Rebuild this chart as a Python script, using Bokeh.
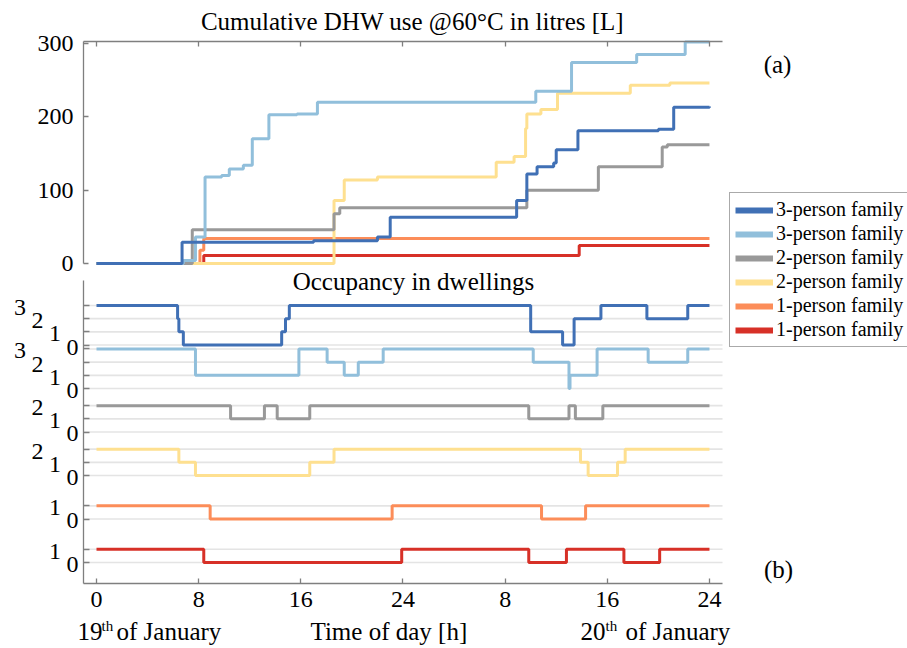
from bokeh.plotting import figure
from bokeh.models import (Range1d, LinearAxis, FixedTicker, Label, LabelSet,
                          ColumnDataSource, Legend, LegendItem, CustomJSTickFormatter)
from bokeh.core.properties import value
from bokeh.embed import file_html
from bokeh.resources import INLINE

FONT = "Liberation Serif"
AXC = "#7f7f7f"

# ---------------- data ----------------
series_labels = ["3-person family", "3-person family", "2-person family",
                 "2-person family", "1-person family", "1-person family"]
series_colors = ["#4070b5", "#91bfdb", "#999999", "#fee090", "#fc8d59", "#d73027"]

# (a) cumulative DHW use @60°C [L], step series (hour, litres after step)
dhw_t_3a = [0, 6.7, 17.0, 22.0, 23.0, 32.9, 33.7, 34.5, 35.8, 36.0, 37.7, 44.0, 45.2, 48]
dhw_v_3a = [0, 29, 31, 36, 63, 86, 122, 132, 137, 155, 181, 183, 213, 214]
dhw_t_3b = [0, 6.8, 7.75, 8.5, 9.8, 10.4, 11.5, 12.2, 13.5, 15.7, 17.3, 34.4, 37.2, 42.3, 46.1, 48]
dhw_v_3b = [0, 4, 36, 118, 120, 129, 134, 170, 203, 204, 220, 235, 274, 285, 302, 302]
dhw_t_2a = [0, 7.5, 18.6, 19.05, 33.7, 39.3, 44.3, 44.7, 48]
dhw_v_2a = [0, 46, 68, 76, 100, 132, 159, 162, 162]
dhw_t_2b = [0, 18.6, 19.4, 22.0, 31.3, 32.7, 33.6, 33.7, 34.8, 36.1, 41.8, 44.9, 48]
dhw_v_2b = [0, 86, 114, 118, 138, 146, 184, 204, 210, 232, 243, 246, 246]
dhw_t_1a = [0, 8.1, 8.4, 48]
dhw_v_1a = [0, 18, 34, 34]
dhw_t_1b = [0, 8.4, 37.8, 48]
dhw_v_1b = [0, 11, 24.5, 24.5]

# (b) occupancy (number of persons at home), step series
occ_t_3a = [0, 6.35, 6.45, 6.8, 14.5, 14.8, 15.1, 34.0, 36.5, 37.4, 39.5, 43.1, 46.3, 48]
occ_v_3a = [3, 2, 1, 0, 1, 2, 3, 1, 0, 2, 3, 2, 3, 3]
occ_t_3b = [0, 7.75, 15.85, 18.06, 19.4, 20.5, 22.45, 34.2, 37.0, 37.08, 39.2, 43.2, 46.3, 48]
occ_v_3b = [3, 1, 3, 2, 1, 2, 3, 2, 0, 1, 3, 2, 3, 3]
occ_t_2a = [0, 10.5, 13.15, 14.15, 16.7, 33.85, 37.0, 37.5, 39.65, 48]
occ_v_2a = [2, 1, 2, 1, 2, 1, 2, 1, 2, 2]
occ_t_2b = [0, 6.45, 7.75, 16.7, 18.6, 37.9, 38.5, 40.8, 41.4, 48]
occ_v_2b = [2, 1, 0, 1, 2, 1, 0, 1, 2, 2]
occ_t_1a = [0, 8.9, 23.15, 34.85, 38.3, 48]
occ_v_1a = [1, 0, 1, 0, 1, 1]
occ_t_1b = [0, 8.4, 23.9, 33.85, 36.8, 41.3, 44.1, 48]
occ_v_1b = [1, 0, 1, 0, 1, 0, 1, 1]
occ_max = [3, 3, 2, 2, 1, 1]

x_ticks = [0, 8, 16, 24, 32, 40, 48]
x_tick_labels = ["0", "8", "16", "24", "8", "16", "24"]
dhw_ticks = [0, 100, 200, 300]

dhw_t = [dhw_t_3a, dhw_t_3b, dhw_t_2a, dhw_t_2b, dhw_t_1a, dhw_t_1b]
dhw_v = [dhw_v_3a, dhw_v_3b, dhw_v_2a, dhw_v_2b, dhw_v_1a, dhw_v_1b]
occ_t = [occ_t_3a, occ_t_3b, occ_t_2a, occ_t_2b, occ_t_1a, occ_t_1b]
occ_v = [occ_v_3a, occ_v_3b, occ_v_2a, occ_v_2b, occ_v_1a, occ_v_1b]

# ---------------- layout (screen-pixel anchors -> data) ----------------
TRACK = 3.3            # vertical spacing between stacked occupancy tracks


def HX(px):            # horizontal pixel -> hours
    return (px - 96) / 12.77


def OY(py):            # vertical pixel -> occupancy-track units (default range)
    return (562 - py) / 13.18


def DY(py):            # vertical pixel -> litres (dhw range)
    return (263 - py) / 0.7333


W, H = 907, 648
p = figure(width=W, height=H, x_range=Range1d(HX(0), HX(W)), y_range=Range1d(OY(H), OY(0)),
           output_backend="svg", toolbar_location=None,
           x_axis_location=None, y_axis_location=None, min_border=0)
p.extra_y_ranges = {"dhw": Range1d(DY(H), DY(0))}
p.grid.visible = False
p.outline_line_color = None
p.background_fill_color = "white"
p.border_fill_color = "white"

XL, XR = HX(83), HX(722)


def style_axis(ax):
    ax.axis_line_color = AXC
    ax.axis_line_width = 1.3
    ax.major_tick_line_color = AXC
    ax.major_tick_line_width = 1.3
    ax.minor_tick_line_color = None
    ax.major_tick_out = 0
    ax.major_tick_in = 5
    ax.major_label_text_font = FONT
    ax.major_label_text_font_size = "24px"
    ax.major_label_text_color = "black"


# ---- panel (a) axes ----
ax_top = LinearAxis(y_range_name="dhw", fixed_location=DY(41), bounds=(XL, XR),
                    ticker=FixedTicker(ticks=x_ticks),
                    formatter=CustomJSTickFormatter(code="return ''"))
style_axis(ax_top)
p.add_layout(ax_top, "above")

ax_l1 = LinearAxis(y_range_name="dhw", fixed_location=XL, bounds=(0, DY(41)),
                   ticker=FixedTicker(ticks=dhw_ticks))
style_axis(ax_l1)
ax_l1.major_label_standoff = 10
p.add_layout(ax_l1, "left")

# ---- panel (b) axes ----
occ_ticks = []
lab_x, lab_y, lab_t = [], [], []
for i, m in enumerate(occ_max):
    off = (5 - i) * TRACK
    for v in range(m + 1):
        occ_ticks.append(off + v)
        lab_x.append(HX(78 - 17.5 * v))
        lab_y.append(off + v - 0.15)
        lab_t.append(str(v))

ax_l2 = LinearAxis(fixed_location=XL, bounds=(OY(583), OY(280)),
                   ticker=FixedTicker(ticks=occ_ticks),
                   formatter=CustomJSTickFormatter(code="return ''"))
style_axis(ax_l2)
ax_l2.major_tick_in = 6
p.add_layout(ax_l2, "left")

ax_b = LinearAxis(fixed_location=OY(583), bounds=(XL, XR),
                  ticker=FixedTicker(ticks=x_ticks),
                  major_label_overrides={t: s for t, s in zip(x_ticks, x_tick_labels)})
style_axis(ax_b)
ax_b.major_label_standoff = 8
p.add_layout(ax_b, "below")

# horizontal guide lines at every occupancy level
p.segment(x0=XL, x1=XR, y0=occ_ticks, y1=occ_ticks, line_color="#e4e4e4", line_width=1.6)

# ---- data lines ----
for i in reversed(range(6)):
    p.step(dhw_t[i], dhw_v[i], mode="after", line_color=series_colors[i], line_width=3,
           y_range_name="dhw")

for i in range(6):
    off = (5 - i) * TRACK
    p.step(occ_t[i], [off + v for v in occ_v[i]], mode="after",
           line_color=series_colors[i], line_width=3)

# ---- texts ----
p.add_layout(LabelSet(x="x", y="y", text="t",
                      source=ColumnDataSource(dict(x=lab_x, y=lab_y, t=lab_t)),
                      text_align="right", text_baseline="middle",
                      text_font=value(FONT), text_font_size=value("24px"), text_color="black"))


def add_text(txt, px, py, size="25px", align="left"):
    p.add_layout(Label(x=HX(px), y=OY(py), text=txt, text_align=align,
                       text_baseline="middle", text_font=FONT, text_font_size=size,
                       text_color="black"))


add_text("Cumulative DHW use @60°C in litres [L]", 412, 21, align="center")
add_text("Occupancy in dwellings", 413, 281, align="center")
add_text("19", 77, 631)
add_text("th", 101, 625, size="15px")
add_text("of January", 116, 631)
add_text("Time of day [h]", 310, 631)
add_text("20", 580, 631)
add_text("th", 605, 625, size="15px")
add_text("of January", 625, 631)
add_text("(a)", 777, 64, align="center")
add_text("(b)", 778, 569, align="center")

# ---- legend (thick-line proxies, single point each so nothing is drawn) ----
items = []
for i in range(6):
    r = p.line(x=dhw_t[i][:1], y=dhw_v[i][:1], y_range_name="dhw",
               line_color=series_colors[i], line_width=6)
    items.append(LegendItem(label=series_labels[i], renderers=[r]))
leg = Legend(items=items, location=(729, H - 347), margin=0, padding=5, spacing=1,
             glyph_width=38, glyph_height=20, label_height=20, label_standoff=3,
             label_text_font=FONT, label_text_font_size="20px", label_text_color="black",
             border_line_color="#555555", border_line_width=1.2,
             background_fill_color="white", background_fill_alpha=1.0)
p.add_layout(leg)

open("out.html", "w").write(file_html(p, INLINE))
